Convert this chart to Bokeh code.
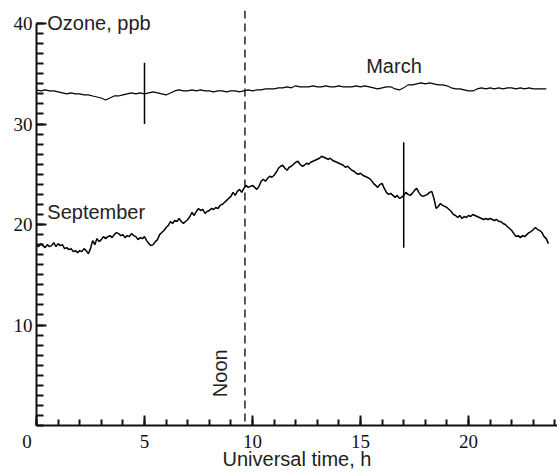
import numpy as np
from bokeh.plotting import figure
from bokeh.models import (Range1d, FixedTicker, Label, Span)
from bokeh.embed import file_html
from bokeh.resources import INLINE

# ---------------- data ----------------
sep_hours = np.round(np.arange(0, 238) * 0.1, 1)
sep_ozone = [
    18.0, 17.8, 18.1, 17.9, 17.7, 18.0, 17.8, 17.9, 18.2, 17.8,
    18.1, 17.9, 18.0, 17.6, 17.7, 17.5, 17.6, 17.3, 17.4, 17.2,
    17.4, 17.3, 17.6, 17.4, 17.1, 17.6, 18.4, 18.0, 18.6, 18.3,
    18.5, 18.8, 18.6, 18.8, 18.9, 18.7, 19.0, 19.2, 19.1, 18.9,
    19.0, 18.7, 18.9, 18.8, 19.1, 18.9, 18.8, 18.5, 18.7, 18.6,
    18.8, 18.4, 18.1, 17.9, 18.0, 18.3, 18.5, 19.0, 19.2, 19.4,
    19.7, 19.9, 20.3, 20.1, 20.4, 20.3, 20.6, 20.3, 20.1, 20.3,
    20.5, 20.8, 21.2, 20.9, 21.3, 21.6, 21.4, 21.5, 21.1, 21.3,
    21.4, 21.6, 21.5, 21.7, 21.6, 21.9, 22.0, 22.2, 22.4, 22.6,
    22.8, 23.2, 22.9, 23.3, 23.5, 23.2, 23.6, 23.9, 23.7, 23.8,
    23.9, 23.7, 23.5, 23.8, 24.3, 24.5, 24.3, 24.6, 24.8, 24.7,
    24.9, 25.2, 25.6, 25.8, 25.9, 25.6, 25.4, 25.7, 25.8, 26.0,
    26.2, 26.3, 26.0, 25.8, 25.9, 26.1, 26.0, 26.2, 26.3, 26.4,
    26.5, 26.6, 26.8, 26.7, 26.6, 26.5, 26.6, 26.4, 26.3, 26.2,
    26.1, 26.0, 25.9, 25.7, 25.8, 25.6, 25.4, 25.3, 25.1, 25.0,
    25.1, 24.9, 24.8, 24.7, 24.6, 24.4, 24.1, 23.9, 23.7, 24.0,
    24.1, 23.6, 23.2, 23.0, 23.1, 22.9, 22.7, 22.9, 22.6, 22.7,
    22.9, 23.2, 23.0, 22.9, 23.1, 23.4, 23.6, 23.2, 22.9, 22.8,
    22.9, 23.0, 23.2, 23.3, 22.6, 21.6, 21.8, 22.1, 21.9, 21.8,
    21.7, 21.5, 21.3, 21.0, 20.9, 20.7, 20.9, 20.6, 20.8, 20.7,
    20.9, 20.8, 21.0, 20.9, 20.8, 20.7, 20.6, 20.5, 20.6, 20.5,
    20.6, 20.5, 20.4, 20.5, 20.3, 20.3, 20.1, 20.0, 19.8, 19.6,
    19.4, 19.1, 18.8, 18.9, 18.7, 18.9, 18.8, 19.0, 19.2, 19.3,
    19.5, 19.7, 19.5, 19.4, 19.2, 18.8, 18.6, 18.1,
]

mar_hours = np.round(np.arange(0, 119) * 0.2, 1)
mar_ozone = [
    33.4, 33.3, 33.4, 33.3, 33.3, 33.2, 33.1, 33.0, 33.1, 33.0,
    33.0, 32.9, 32.9, 32.8, 32.7, 32.6, 32.4, 32.6, 32.8, 32.8,
    32.9, 33.0, 33.1, 33.0, 33.1, 33.0, 33.1, 33.2, 33.1, 33.0,
    32.9, 33.1, 33.3, 33.4, 33.3, 33.3, 33.4, 33.3, 33.4, 33.3,
    33.3, 33.2, 33.3, 33.3, 33.2, 33.3, 33.3, 33.2, 33.3, 33.4,
    33.3, 33.4, 33.4, 33.5, 33.5, 33.5, 33.6, 33.6, 33.7, 33.6,
    33.8, 33.7, 33.7, 33.7, 33.8, 33.7, 33.7, 33.8, 33.7, 33.7,
    33.8, 33.7, 33.7, 33.7, 33.8, 33.7, 33.8, 33.7, 33.6, 33.5,
    33.6, 33.7, 33.7, 33.5, 33.4, 33.6, 33.9, 33.9, 34.0, 34.1,
    34.0, 34.1, 34.0, 33.9, 33.9, 33.8, 33.6, 33.5, 33.5, 33.4,
    33.3, 33.3, 33.5, 33.6, 33.5, 33.6, 33.5, 33.6, 33.5, 33.6,
    33.6, 33.5, 33.6, 33.5, 33.6, 33.5, 33.5, 33.5, 33.5,
]

bar_hours = [5.0, 17.0]
bar_low = [30.0, 17.7]
bar_high = [36.1, 28.2]

noon_hour = 9.65
x_ticks = [0, 5, 10, 15, 20]
y_ticks = [10, 20, 30, 40]

# ---------------- figure ----------------
p = figure(width=557, height=472, output_backend="svg", toolbar_location=None,
           x_range=Range1d(0, 24.12), y_range=Range1d(0, 41.3),
           min_border_left=36, min_border_right=0, min_border_top=10,
           min_border_bottom=40)
p.outline_line_color = None
p.xgrid.visible = False
p.ygrid.visible = False
p.background_fill_color = "white"
p.border_fill_color = "white"

tick_font = "Liberation Serif"
text_font = "Liberation Sans"
ink = "#111111"

# x axis
xa = p.xaxis[0]
xa.ticker = FixedTicker(ticks=x_ticks, minor_ticks=list(range(0, 25)))
# the original shows its "0" shifted to the left of the corner
xa.major_label_overrides = {0: "0\u00a0\u00a0\u00a0\u00a0"}
xa.axis_line_width = 2
xa.axis_line_color = ink
xa.major_tick_line_width = 2
xa.minor_tick_line_width = 2
xa.major_tick_line_color = ink
xa.minor_tick_line_color = ink
xa.major_tick_in = 10
xa.major_tick_out = 0
xa.minor_tick_in = 6
xa.minor_tick_out = 0
xa.major_label_standoff = 5
xa.major_label_text_font = tick_font
xa.major_label_text_font_size = "19px"
xa.major_label_text_color = ink
xa.axis_label = "Universal time, h"
xa.axis_label_text_font = text_font
xa.axis_label_text_font_style = "normal"
xa.axis_label_text_font_size = "20px"
xa.axis_label_text_color = "#222222"
xa.axis_label_standoff = -7

# y axis
ya = p.yaxis[0]
ya.ticker = FixedTicker(ticks=y_ticks, minor_ticks=list(range(0, 41)))
ya.bounds = (0, 40)
ya.axis_line_width = 2
ya.axis_line_color = ink
ya.major_tick_line_width = 2
ya.minor_tick_line_width = 2
ya.major_tick_line_color = ink
ya.minor_tick_line_color = ink
ya.major_tick_in = 10
ya.major_tick_out = 0
ya.minor_tick_in = 7
ya.minor_tick_out = 0
ya.major_label_standoff = 4
ya.major_label_text_font = tick_font
ya.major_label_text_font_size = "19px"
ya.major_label_text_color = ink
ya.major_label_orientation = "horizontal"

# data lines
p.line(mar_hours, mar_ozone, line_color="black", line_width=1.1)
p.line(sep_hours, sep_ozone, line_color="black", line_width=1.5)

# variability bars
p.segment(x0=bar_hours, y0=bar_low, x1=bar_hours, y1=bar_high,
          line_color="black", line_width=1.5)

# noon line
p.add_layout(Span(location=noon_hour, dimension="height", line_color="black",
                  line_width=1.3, line_dash="8 5"))

# texts
lab_kw = dict(text_font=text_font, text_font_size="20px", text_color="#222222")
p.add_layout(Label(x=0.5, y=40.1, text="Ozone, ppb", text_baseline="middle",
                   text_align="left", **lab_kw))
p.add_layout(Label(x=16.55, y=35.8, text="March", text_baseline="middle",
                   text_align="center", **lab_kw))
p.add_layout(Label(x=0.5, y=21.2, text="September", text_baseline="middle",
                   text_align="left", **lab_kw))
p.add_layout(Label(x=8.5, y=5.2, text="Noon", angle=np.pi / 2,
                   text_baseline="middle", text_align="center", **lab_kw))

open("out.html", "w").write(file_html(p, INLINE))
